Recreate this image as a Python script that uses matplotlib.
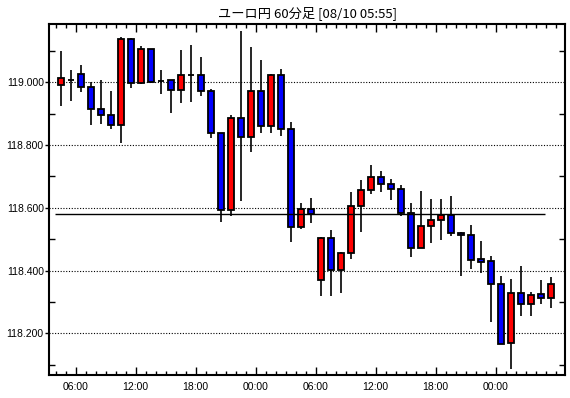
import matplotlib
matplotlib.use("Agg")
import matplotlib.pyplot as plt
from matplotlib.ticker import MultipleLocator, FixedLocator
import numpy as np

plt.rcParams['font.family'] = ['Liberation Sans', 'Noto Sans CJK JP']

# EUR/JPY hourly candles, first candle 04:00
start_hour = 4
opens = [118.990, 119.008, 119.025, 118.984, 118.914, 118.895, 118.863, 119.137, 118.997, 119.105,
         119.005, 119.006, 118.975, 119.022, 119.022, 118.971, 118.837, 118.592, 118.885, 118.825,
         118.971, 118.860, 119.022, 118.850, 118.539, 118.595, 118.369, 118.503, 118.403, 118.455,
         118.605, 118.656, 118.697, 118.675, 118.659, 118.582, 118.471, 118.541, 118.560, 118.578,
         118.520, 118.512, 118.436, 118.429, 118.356, 118.168, 118.327, 118.292, 118.324, 118.312]
closes = [119.013, 119.008, 118.984, 118.914, 118.895, 118.863, 119.137, 118.997, 119.105, 119.002,
          119.005, 118.975, 119.022, 119.022, 118.971, 118.837, 118.592, 118.885, 118.825, 118.971,
          118.860, 119.022, 118.850, 118.539, 118.595, 118.580, 118.503, 118.403, 118.455, 118.605,
          118.656, 118.697, 118.675, 118.659, 118.582, 118.471, 118.541, 118.560, 118.578, 118.519,
          118.512, 118.435, 118.428, 118.356, 118.165, 118.327, 118.292, 118.321, 118.312, 118.356]
highs = [119.100, 119.039, 119.055, 119.002, 119.007, 118.972, 119.143, 119.142, 119.116, 119.105,
         119.039, 119.006, 119.103, 119.119, 119.081, 118.978, 118.837, 118.896, 119.164, 119.113,
         119.071, 119.025, 119.042, 118.873, 118.614, 118.630, 118.508, 118.529, 118.459, 118.650,
         118.689, 118.736, 118.717, 118.692, 118.673, 118.616, 118.654, 118.628, 118.628, 118.639,
         118.524, 118.545, 118.494, 118.446, 118.383, 118.373, 118.415, 118.332, 118.370, 118.379]
lows = [118.924, 118.941, 118.970, 118.865, 118.868, 118.852, 118.807, 118.983, 118.994, 118.997,
        118.964, 118.901, 118.935, 118.938, 118.957, 118.823, 118.556, 118.575, 118.623, 118.779,
        118.839, 118.839, 118.828, 118.490, 118.531, 118.551, 118.318, 118.318, 118.329, 118.436,
        118.524, 118.644, 118.649, 118.625, 118.575, 118.444, 118.471, 118.489, 118.497, 118.511,
        118.383, 118.406, 118.393, 118.237, 118.165, 118.087, 118.256, 118.256, 118.293, 118.282]

ref_price = 118.580
tick_labels = ["06:00", "12:00", "18:00", "00:00", "06:00", "12:00", "18:00", "00:00"]
title = "ユーロ円 60分足 [08/10 05:55]"

x = start_hour + 0.5 + np.arange(len(opens))
o = np.array(opens)
c = np.array(closes)

fig = plt.figure(figsize=(5.7, 3.98), dpi=100)
ax = fig.add_axes([0.0865, 0.0578, 0.9053, 0.8811])

# wicks
ax.vlines(x, lows, highs, color="black", linewidth=1.2, zorder=2)

# bodies: red = up, blue = down
colors = np.where(c > o, "#ff0000", "#0000ff")
bottoms = np.minimum(o, c)
heights = np.abs(c - o)
ax.bar(x, heights, bottom=bottoms, width=0.62, color=colors,
       edgecolor="black", linewidth=1.3, zorder=3)

# reference line
ax.hlines(ref_price, x[0] - 0.57, x[-1] - 0.57, color="black", linewidth=1.0, zorder=4)

ax.set_xlim(3.36, 54.96)
ax.set_ylim(118.0671, 119.1849)

ax.yaxis.set_major_locator(FixedLocator([118.2, 118.4, 118.6, 118.8, 119.0]))
ax.yaxis.set_minor_locator(MultipleLocator(0.1))
ax.yaxis.set_major_formatter(plt.FuncFormatter(lambda v, p: f"{v:.3f}"))
ax.grid(axis="y", which="major", color="black", linestyle=(0, (1, 1.5)), linewidth=0.8)

ax.xaxis.set_major_locator(FixedLocator([6, 12, 18, 24, 30, 36, 42, 48]))
ax.set_xticklabels(tick_labels)
ax.xaxis.set_minor_locator(MultipleLocator(1))

ax.tick_params(axis="x", which="major", direction="in", length=6, width=1,
               top=True, labelsize=7.5, pad=5)
ax.tick_params(axis="x", which="minor", direction="in", length=3, width=1, top=True)
ax.tick_params(axis="y", which="major", direction="out", length=3, width=1,
               labelsize=7.5, pad=1)
ax.tick_params(axis="y", which="minor", direction="in", length=4, width=1, right=True)

for s in ax.spines.values():
    s.set_linewidth(1.5)

fig.text(0.539, 0.967, title, ha="center", va="center", fontsize=9.5,
         family=['Noto Sans CJK JP', 'DejaVu Sans'])

fig.savefig("out.png", dpi=100, facecolor="white")
